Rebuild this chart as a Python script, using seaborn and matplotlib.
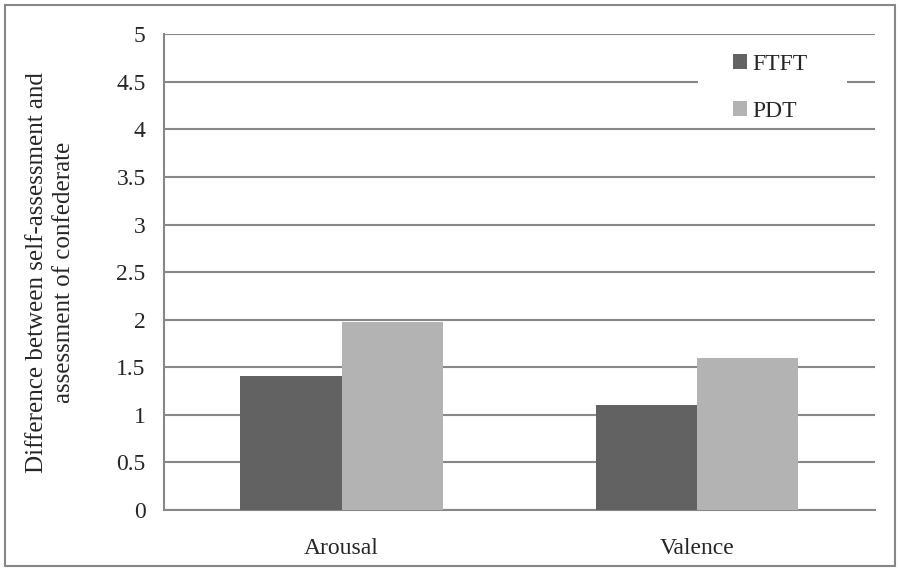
import pandas as pd
import seaborn as sns
import matplotlib.pyplot as plt
from matplotlib.patches import Rectangle

categories = ["Arousal", "Valence"]
groups = ["FTFT", "PDT"]
ftft_values = [1.41, 1.10]
pdt_values = [1.98, 1.60]
y_ticks = [0, 0.5, 1, 1.5, 2, 2.5, 3, 3.5, 4, 4.5, 5]
y_tick_labels = ["0", "0.5", "1", "1.5", "2", "2.5", "3", "3.5", "4", "4.5", "5"]

df = pd.DataFrame({
    "Category": categories * 2,
    "Group": [groups[0]] * 2 + [groups[1]] * 2,
    "Value": ftft_values + pdt_values,
})

sns.set_style("white")
plt.rcParams["font.family"] = ["Liberation Serif", "DejaVu Serif"]

grey = "#878787"
fig = plt.figure(figsize=(9, 5.71), dpi=100)
ax = fig.add_axes([0.182, 0.107, 0.79, 0.833])

sns.barplot(data=df, x="Category", y="Value", hue="Group",
            palette=["#626262", "#b3b3b3"], width=0.57, gap=0,
            saturation=1, ax=ax, zorder=3, linewidth=0)

ax.set_xlim(-0.5, 1.5)
ax.set_ylim(0, 5)
ax.set_yticks(y_ticks)
ax.set_yticklabels(y_tick_labels, fontsize=17)
ax.yaxis.grid(True, color=grey, linewidth=1.5, zorder=0)
ax.set_axisbelow(True)
ax.tick_params(axis="y", length=8, width=1.2, color=grey, direction="out", pad=5)
ax.tick_params(axis="x", which="major", length=0, labelsize=17, pad=20)
ax.set_xticks([-0.5, 0.5, 1.5], minor=True)
ax.tick_params(axis="x", which="minor", length=8, width=1.2, color=grey, direction="out")
ax.set_xlabel("")
ax.set_ylabel("Difference between self-assessment and\nassessment of confederate", fontsize=18,
              labelpad=30, linespacing=1.25)

for side in ["top", "right"]:
    ax.spines[side].set_visible(False)
for side in ["left", "bottom"]:
    ax.spines[side].set_color(grey)
    ax.spines[side].set_linewidth(1.5)

# white box behind the legend, hiding part of the gridlines
ax.add_patch(Rectangle((0.752, 0.806), 0.209, 0.18, transform=ax.transAxes,
                       facecolor="white", edgecolor="none", zorder=1))
leg = ax.legend(loc="upper left", bbox_to_anchor=(0.800, 0.958), fontsize=17,
                frameon=False, handlelength=0.6, handleheight=0.6, handletextpad=0.25,
                labelspacing=1.1, borderpad=0, borderaxespad=0)

fig.add_artist(Rectangle((0.006, 0.009), 0.988, 0.982, transform=fig.transFigure,
                         fill=False, edgecolor=grey, linewidth=1.5))

fig.savefig("out.png", dpi=100)
